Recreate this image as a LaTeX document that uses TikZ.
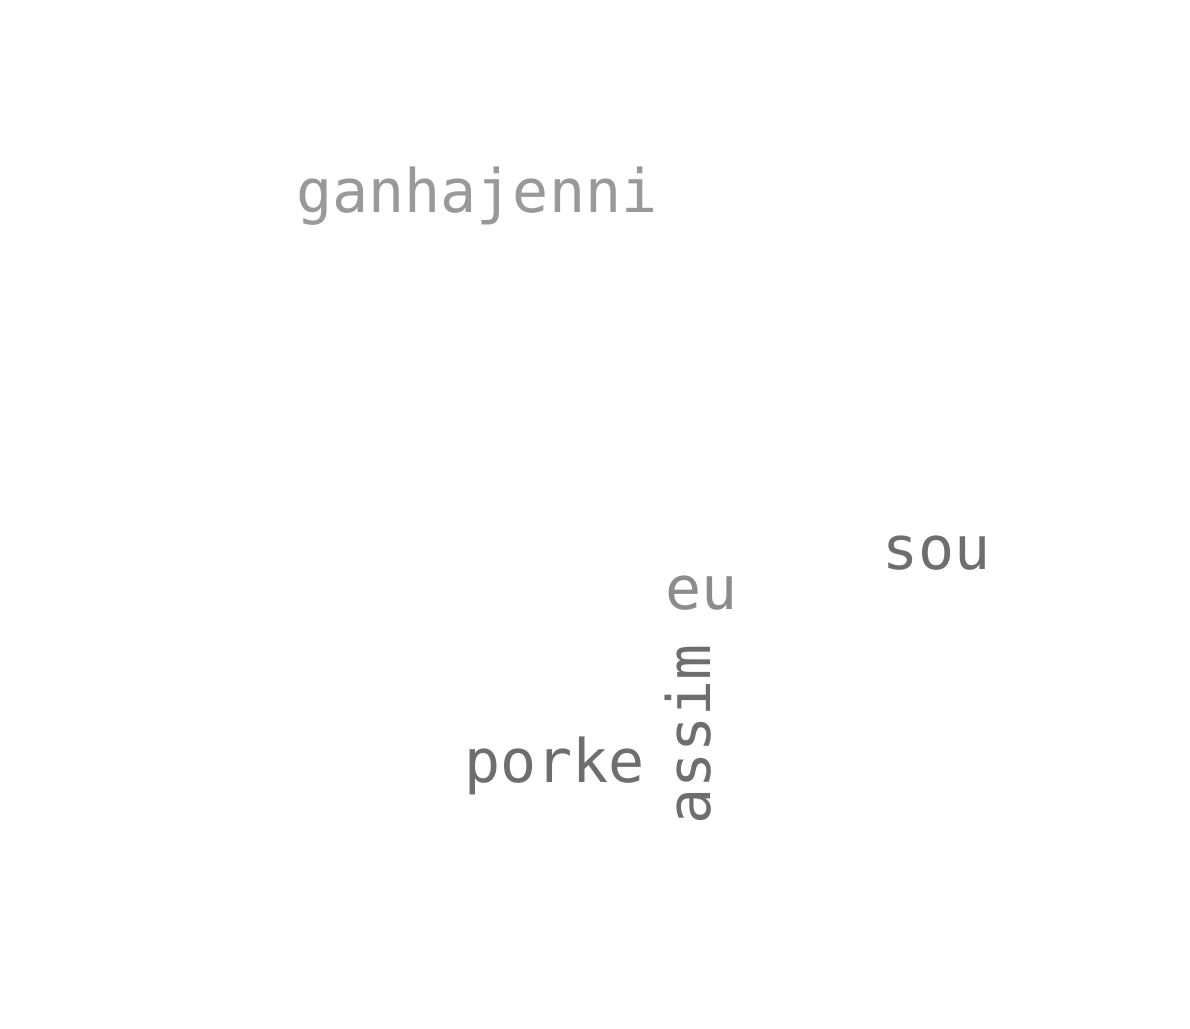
\documentclass[tikz,border=0pt]{standalone}
\usepackage{fontspec}
\setmonofont{DejaVu Sans Mono}
\definecolor{light}{HTML}{999999}
\definecolor{mid}{HTML}{8C8C8C}
\definecolor{dark}{HTML}{6E6E6E}
\tikzset{
    word/.style={anchor=base west, inner sep=0, font=\ttfamily\fontsize{60}{72}\selectfont},
    light/.style={word, text=light},
    mid/.style={word, text=mid},
    dark/.style={word, text=dark}
}
\begin{document}
\begin{tikzpicture}[x=1pt,y=1pt]
    \useasboundingbox (0,0) rectangle (1190,1028);
    \node[light] (ganhajenni) at (296,815) {ganhajenni};
    \node[dark] (sou) at (882,458) {sou};
    \node[mid] (eu) at (665,418) {eu};
    \node[dark] (porke) at (464,246) {porke};
    \node[dark, rotate=90] (assim) at (710,203) {assim};
\end{tikzpicture}
\end{document}
